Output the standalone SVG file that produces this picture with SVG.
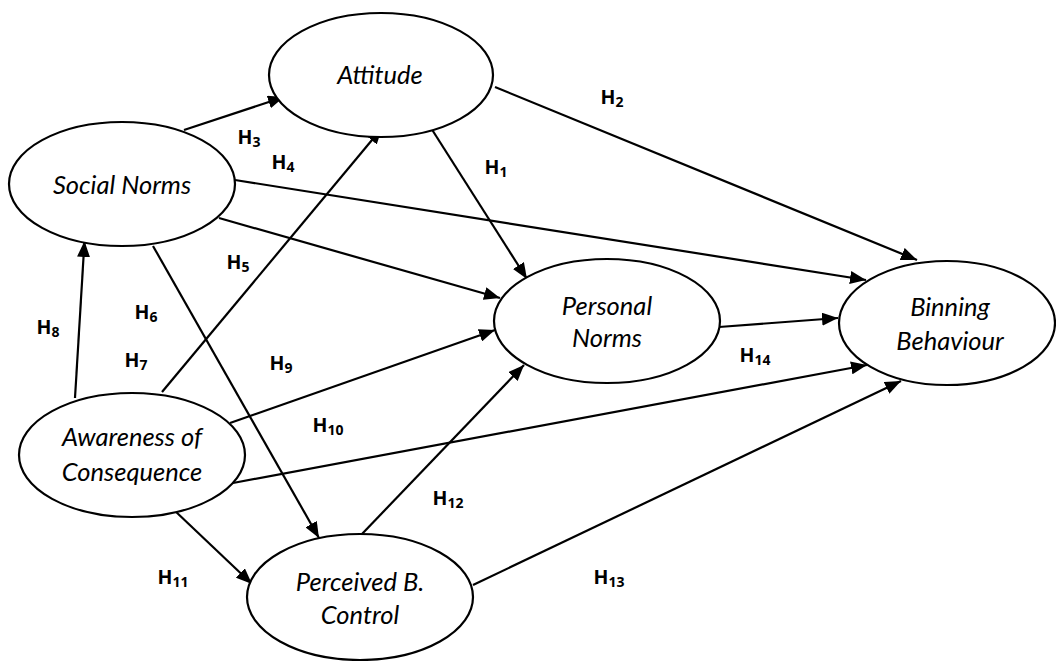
<svg xmlns="http://www.w3.org/2000/svg" width="1056" height="661" viewBox="0 0 1056 661">
<style>
.node ellipse{fill:#fff;stroke:#000;stroke-width:2.2}
.node text{font-family:Lato,"Open Sans",sans-serif;font-style:italic;font-size:25.5px;fill:#000;text-anchor:middle}
.edges line{stroke:#000;stroke-width:2.2;marker-end:url(#ah)}
.lbl{font-family:"Open Sans",Lato,sans-serif;font-weight:bold;font-size:19.5px;fill:#000;text-anchor:middle}
.lbl tspan.s{font-size:14px}
</style>
<defs>
<marker id="ah" markerUnits="userSpaceOnUse" markerWidth="17" markerHeight="13" refX="16" refY="6.5" orient="auto">
<path d="M0,0 L16,6.5 L0,13 z" fill="#000"/>
</marker>
</defs>
<rect width="1056" height="661" fill="#fff"/>
<g class="edges">
<line x1="184" y1="130" x2="284" y2="97"/>
<line x1="431" y1="128" x2="527" y2="279"/>
<line x1="495" y1="87" x2="917" y2="260"/>
<line x1="235" y1="180" x2="866" y2="280"/>
<line x1="219" y1="218" x2="500" y2="298"/>
<line x1="153" y1="246" x2="319" y2="538"/>
<line x1="162" y1="392" x2="382" y2="128"/>
<line x1="75" y1="398" x2="84.5" y2="241"/>
<line x1="230" y1="423" x2="495" y2="330"/>
<line x1="233" y1="483" x2="867" y2="365"/>
<line x1="174" y1="510" x2="252" y2="584"/>
<line x1="362" y1="534" x2="524" y2="365"/>
<line x1="473" y1="585" x2="901" y2="381"/>
<line x1="719" y1="327" x2="838" y2="318"/>
</g>
<g id="attitude" class="node"><ellipse cx="381" cy="75" rx="112" ry="62"/><text x="380" y="84">Attitude</text></g>
<g id="social-norms" class="node"><ellipse cx="122" cy="184" rx="113" ry="62"/><text x="122" y="194">Social Norms</text></g>
<g id="personal-norms" class="node"><ellipse cx="607" cy="321" rx="113" ry="62"/><text x="607" y="315">Personal</text><text x="607" y="347">Norms</text></g>
<g id="binning-behaviour" class="node"><ellipse cx="947" cy="323" rx="108" ry="62"/><text x="950" y="316">Binning</text><text x="950" y="350">Behaviour</text></g>
<g id="awareness" class="node"><ellipse cx="132" cy="455" rx="113" ry="62"/><text x="132" y="446">Awareness of</text><text x="132" y="481">Consequence</text></g>
<g id="perceived-control" class="node"><ellipse cx="360" cy="597" rx="113" ry="63"/><text x="360" y="591">Perceived B.</text><text x="360" y="624">Control</text></g>
<g id="labels">
<text class="lbl" x="496" y="174">H<tspan class="s" dy="3">1</tspan></text>
<text class="lbl" x="612" y="104">H<tspan class="s" dy="3">2</tspan></text>
<text class="lbl" x="249" y="144">H<tspan class="s" dy="3">3</tspan></text>
<text class="lbl" x="283" y="169">H<tspan class="s" dy="3">4</tspan></text>
<text class="lbl" x="238" y="269">H<tspan class="s" dy="3">5</tspan></text>
<text class="lbl" x="146" y="319">H<tspan class="s" dy="3">6</tspan></text>
<text class="lbl" x="136" y="367">H<tspan class="s" dy="3">7</tspan></text>
<text class="lbl" x="48" y="334">H<tspan class="s" dy="3">8</tspan></text>
<text class="lbl" x="281" y="370">H<tspan class="s" dy="3">9</tspan></text>
<text class="lbl" x="328" y="432">H<tspan class="s" dy="3">10</tspan></text>
<text class="lbl" x="173" y="584">H<tspan class="s" dy="3">11</tspan></text>
<text class="lbl" x="448" y="505">H<tspan class="s" dy="3">12</tspan></text>
<text class="lbl" x="609" y="584">H<tspan class="s" dy="3">13</tspan></text>
<text class="lbl" x="755" y="362">H<tspan class="s" dy="3">14</tspan></text>
</g>
</svg>
